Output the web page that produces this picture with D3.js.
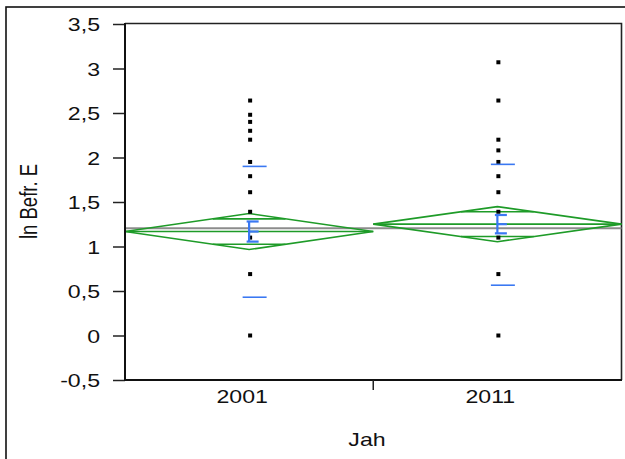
<!DOCTYPE html>
<html>
<head>
<meta charset="utf-8">
<script src="https://cdn.jsdelivr.net/npm/d3@7"></script>
<style>
  html, body { margin: 0; padding: 0; background: #fff; }
  svg { display: block; }
  text { font-family: "Liberation Sans", Arial, sans-serif; fill: #111; }
</style>
</head>
<body>
<svg id="chart" width="625" height="459"></svg>
<script>
// Groups and observations (ln-transformed values)
const groups = ["2001", "2011"];
const points2001 = [2.64, 2.48, 2.40, 2.30, 2.20, 1.95, 1.79, 1.61, 1.39, 1.10, 0.69, 0];
const points2011 = [3.07, 2.64, 2.20, 2.08, 1.95, 1.79, 1.61, 1.39, 1.10, 0.69, 0];

// Group summaries: means, 95% CI half-widths, standard errors, mean ± SD lines
const groupMeans = [1.168, 1.251];
const ciHalf = [0.202, 0.197];
const stdErr = [0.113, 0.103];
const sdLow = [0.43, 0.565];
const sdHigh = [1.90, 1.923];
const grandMean = 1.205;

// Axis ticks and titles
const yTicks = [-0.5, 0, 0.5, 1, 1.5, 2, 2.5, 3, 3.5];
const xTitle = "Jah";
const yTitle = "ln Befr. E";

const GREEN = "#1e9b28", BLUE = "#3a78f2", GREY = "#8c8c8c";
const SX = 1.25; // horizontal stretch of the text glyphs

const svg = d3.select("#chart");
const plotLeft = 125, plotRight = 621.5, plotTop = 23.5, plotBottom = 380;

const y = d3.scaleLinear().domain([-0.5, 3.5]).range([plotBottom, 24]);
const x = d3.scaleBand().domain(groups).range([plotLeft, plotRight]).padding(0);

// outer frame
svg.append("rect").attr("x", 6).attr("y", 7).attr("width", 700).attr("height", 500)
  .attr("fill", "none").attr("stroke", "#111").attr("stroke-width", 1.6);

// plot frame (top and right)
svg.append("path")
  .attr("d", `M${plotLeft},${plotTop}H${plotRight}V${plotBottom}`)
  .attr("fill", "none").attr("stroke", "#222").attr("stroke-width", 1.6);

// grand mean
svg.append("line")
  .attr("x1", plotLeft).attr("x2", plotRight)
  .attr("y1", y(grandMean)).attr("y2", y(grandMean))
  .attr("stroke", GREY).attr("stroke-width", 2);

const pointSets = [points2001, points2011];

groups.forEach((g, i) => {
  const x0 = x(g), x1 = x(g) + x.bandwidth(), cx = x(g) + x.bandwidth() / 2;
  const m = groupMeans[i], h = ciHalf[i];
  const dg = svg.append("g").attr("stroke", GREEN).attr("stroke-width", 1.6).attr("fill", "none");
  // means diamond
  dg.append("path")
    .attr("d", `M${x0},${y(m)}L${cx},${y(m + h)}L${x1},${y(m)}L${cx},${y(m - h)}Z`);
  // mean line
  dg.append("line").attr("x1", x0).attr("x2", x1).attr("y1", y(m)).attr("y2", y(m));
  // overlap marks
  const o = h / Math.SQRT2;
  const halfW = (x1 - x0) / 2 * (1 - o / h);
  [m + o, m - o].forEach(v => {
    dg.append("line").attr("x1", cx - halfW).attr("x2", cx + halfW)
      .attr("y1", y(v)).attr("y2", y(v));
  });

  // observations
  svg.append("g").selectAll("rect").data(pointSets[i]).join("rect")
    .attr("x", cx + 1 - 2).attr("y", d => y(d) - 2)
    .attr("width", 4).attr("height", 4).attr("fill", "#000");

  // mean ± SD lines
  const bg = svg.append("g").attr("stroke", BLUE).attr("fill", "none");
  [sdLow[i], sdHigh[i]].forEach(v => {
    bg.append("line").attr("x1", cx - 6.5).attr("x2", cx + 17.5)
      .attr("y1", y(v)).attr("y2", y(v)).attr("stroke-width", 1.6);
  });
  // error bar (mean ± SE)
  const se = stdErr[i];
  bg.append("line").attr("x1", cx).attr("x2", cx)
    .attr("y1", y(m + se)).attr("y2", y(m - se)).attr("stroke-width", 2.2);
  [m + se, m - se].forEach(v => {
    bg.append("line").attr("x1", cx - 2.5).attr("x2", cx + 9.5)
      .attr("y1", y(v)).attr("y2", y(v)).attr("stroke-width", 2.2);
  });
  bg.append("line").attr("x1", cx).attr("x2", cx + 9.5)
    .attr("y1", y(m)).attr("y2", y(m)).attr("stroke-width", 2.2);
});

// y axis
const yAxis = svg.append("g").attr("transform", `translate(${plotLeft},0)`)
  .call(d3.axisLeft(y).tickValues(yTicks).tickSize(12)
    .tickFormat(d => String(d).replace(".", ",")));
yAxis.select(".domain").remove();
yAxis.selectAll(".tick line").attr("stroke", "#222").attr("stroke-width", 1.5);
yAxis.selectAll(".tick text")
  .attr("x", -25 / SX).attr("dy", "0.36em")
  .attr("transform", `scale(${SX},1)`)
  .style("font-size", "18.5px").style("font-family", "'Liberation Sans', Arial, sans-serif")
  .attr("fill", "#111");
svg.append("line").attr("x1", plotLeft).attr("x2", plotLeft).attr("y1", plotTop - 0.5).attr("y2", plotBottom + 1)
  .attr("stroke", "#111").attr("stroke-width", 2);

// x axis
svg.append("line").attr("x1", plotLeft).attr("x2", plotRight + 0.5).attr("y1", plotBottom).attr("y2", plotBottom)
  .attr("stroke", "#111").attr("stroke-width", 2);
groups.slice(1).forEach(g => {
  svg.append("line").attr("x1", x(g)).attr("x2", x(g)).attr("y1", plotBottom).attr("y2", plotBottom + 10)
    .attr("stroke", "#222").attr("stroke-width", 1.5);
});
groups.forEach(g => {
  svg.append("text")
    .attr("transform", `translate(${x(g) + x.bandwidth() / 2 - 7},403) scale(${SX},1)`)
    .attr("text-anchor", "middle").style("font-size", "18.5px").text(g);
});

// titles
svg.append("text")
  .attr("transform", `translate(367,446) scale(${SX},1)`)
  .attr("text-anchor", "middle").style("font-size", "18.5px").text(xTitle);
svg.append("text")
  .attr("transform", `translate(36.5,201.5) scale(${SX},1) rotate(-90)`)
  .attr("text-anchor", "middle").style("font-size", "18.5px").text(yTitle);
</script>
</body>
</html>
